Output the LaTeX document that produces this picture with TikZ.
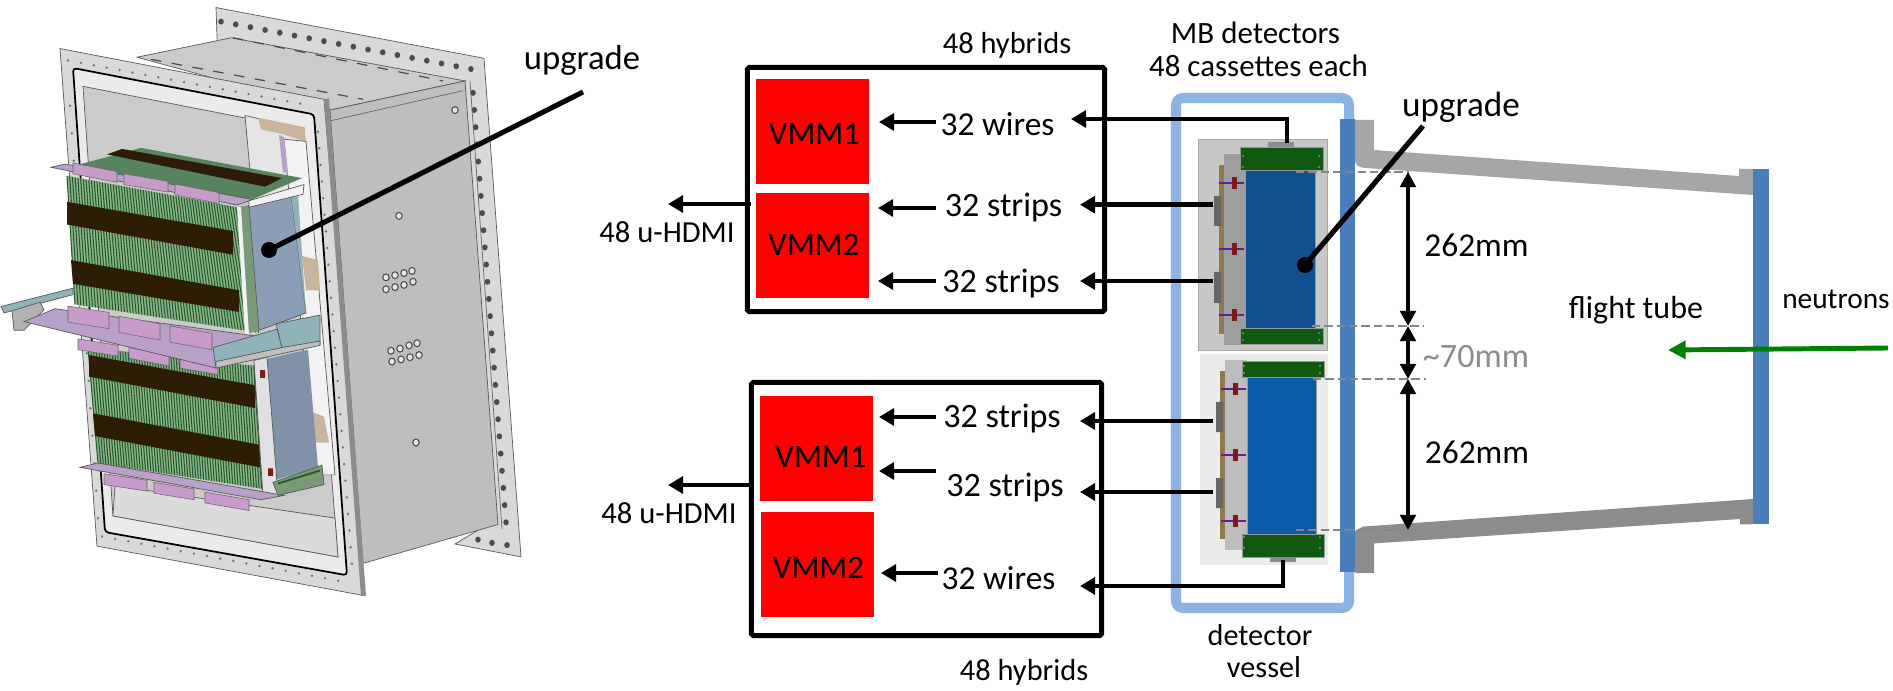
\documentclass[tikz,border=0pt]{standalone}
\usepackage{fontspec}
\setmainfont{Carlito}
\usepackage{tikz}
\usetikzlibrary{arrows.meta, calc}

\definecolor{flange}{HTML}{D9D9D9}
\definecolor{boxside}{HTML}{BEBEBE}
\definecolor{boxtop}{HTML}{CBCBCB}
\definecolor{cassette}{HTML}{8FB48C}
\definecolor{wirestripe}{HTML}{1F5A2A}
\definecolor{bandbrown}{HTML}{2E1D06}
\definecolor{platepink}{HTML}{B9A0C8}
\definecolor{connpink}{HTML}{C79CCB}
\definecolor{panelblue}{HTML}{8A9FB6}
\definecolor{railteal}{HTML}{8FB3B8}
\definecolor{tanplate}{HTML}{C9B59C}
\definecolor{vessel}{HTML}{8DB3E2}
\definecolor{vesselbar}{HTML}{4A7EBB}
\definecolor{tubeup}{HTML}{A6A6A6}
\definecolor{tubelow}{HTML}{8C8C8C}
\definecolor{pcb}{HTML}{0F5A10}
\definecolor{bluedark}{HTML}{10508C}
\definecolor{bluelight}{HTML}{0A5AAA}
\definecolor{flatpurple}{HTML}{6A1B9A}
\definecolor{redblock}{HTML}{7A1A1A}
\definecolor{tanstrip}{HTML}{8F7A50}
\definecolor{dimgrey}{HTML}{868686}

\tikzset{
  lbl/.style={anchor=base, inner sep=0pt, font=\fontsize{#1}{#1}\selectfont},
  hybridbox/.style={draw=black, line width=1.42pt, rounded corners=0.5pt, inner sep=0pt},
  vmmbox/.style={fill=red, inner sep=0pt, minimum width=1.13cm, minimum height=1.05cm},
  sigline/.style={line width=1.3pt, -{Triangle[length=4.3pt,width=4.8pt]}},
  dimline/.style={line width=1.2pt, {Triangle[length=4.3pt,width=4.4pt]}-{Triangle[length=4.3pt,width=4.4pt]}},
  dimdash/.style={draw=dimgrey, line width=0.65pt, dash pattern=on 2.4pt off 1.1pt},
  pointer/.style={line width=1.45pt},
  thinedge/.style={draw=black!65, line width=0.2pt}
}

% pink D-connector: corner, width, drop along the width, height
\newcommand{\dconn}[4]{
  \fill[connpink, draw=black!60, line width=0.15pt] (#1) -- ++(#2,#3) -- ++(0,#4) -- ++(-#2,-#3) -- cycle;
}

\begin{document}
\begin{tikzpicture}[x=0.01cm, y=-0.01cm]
\useasboundingbox (0,0) rectangle (1893,691);

\begin{scope}[yscale=1.0793]
% --- chamber, back flange and box
\fill[flange, thinedge] (216,7) -- (484,54) -- (521,516) -- (455,504) -- (498,480) -- (218,60) -- cycle;
\foreach \t in {0,0.0588,...,1.01}
  \fill[black!70] ($(221,20)!\t!(471,64)$) circle[radius=2.8];
\foreach \t in {0,0.04,...,1.01}
  \fill[black!70] ($(473,86)!\t!(506,484)$) circle[radius=2.8];
\foreach \p in {(478,500),(492,503),(507,505)}
  \fill[black!70] \p circle[radius=2.8];
\fill[boxtop, thinedge] (137,53) -- (231,35) -- (465,75) -- (330,102) -- cycle;
\draw[black!70, line width=0.35pt, dashed] (151,55) -- (363,92);
\draw[black!70, line width=0.35pt, dashed] (233,35) -- (443,75);
\fill[boxside, thinedge] (330,102) -- (465,75) -- (498,486) -- (363,522) -- cycle;
\draw[black!60, line width=0.2pt] (330,112) -- (463,84) (470,75) -- (502,490);
\foreach \p in {(399,200),(455,102),(416,410),
    (386,257),(395,255),(404,253),(412,251),(386,268),(395,266),(404,264),(413,261),
    (391,325),(400,323),(409,320),(417,318),(392,335),(401,333),(410,331),(419,329)}
  \draw[black!70, fill=black!10, line width=0.3pt] \p circle[radius=3.2];

% --- chamber, front flange and window
\fill[flange, thinedge] (60,45) -- (324,92) -- (365,552) -- (97,506) -- cycle;
\fill[black!45] (324,92) -- (329,91) -- (366,552) -- (361,552) -- cycle;
\draw[black, line width=0.5pt, rounded corners=1pt, fill=black!8] (73,63) -- (314,106) -- (347,533) -- (105,493) -- cycle;
\fill[boxtop, thinedge] (83,80) -- (304,120) -- (338,516) -- (113,478) -- cycle;
\fill[black!10, thinedge] (245,107) -- (304,120) -- (318,290) -- (262,280) -- cycle;
\fill[black!14, thinedge] (115,450) -- (335,480) -- (338,516) -- (113,478) -- cycle;
\fill[tanplate] (258,109) -- (305,118) -- (305,131) -- (282,124) -- (261,120) -- cycle;
\fill[black!5, thinedge] (284,129) -- (306,131) -- (335,440) -- (315,440) -- cycle;
\fill[platepink] (279,125) -- (284,127) -- (288,160) -- (283,160) -- cycle;
\fill[tanplate] (302,237) -- (318,241) -- (320,269) -- (306,269) -- cycle;
\fill[tanplate] (302,378) -- (324,386) -- (329,410) -- (315,410) -- cycle;
\foreach \t in {0,0.0556,...,1.01}
  \fill[black!55] ($(68,56)!\t!(300,96)$) circle[radius=1.3];
\foreach \t in {0,0.0385,...,1.01}
  \fill[black!55] ($(318,122)!\t!(352,522)$) circle[radius=1.3];
\foreach \t in {0,0.0556,...,1.01}
  \fill[black!55] ($(102,497)!\t!(338,538)$) circle[radius=1.3];
\foreach \t in {0,0.0667,...,1.01}
  \fill[black!55] ($(70,98)!\t!(98,480)$) circle[radius=1.3];

% --- lower cassette stack
\fill[cassette] (88,322) -- (255,339) -- (263,453) -- (98,429) -- cycle;
\foreach \t in {0,0.016,...,1.01}
  \draw[wirestripe, line width=0.3pt] ($(88,322)!\t!(255,339)$) -- ($(98,429)!\t!(263,453)$);
\fill[bandbrown] (89,329) -- (255,357) -- (255,378) -- (89,349) -- cycle;
\fill[bandbrown] (93,383) -- (259,412) -- (260,433) -- (95,404) -- cycle;
\fill[panelblue!92!black] (265,333) -- (308,324) -- (318,433) -- (274,445) -- cycle;
\fill[black!12, thinedge] (254,334) -- (267,331) -- (278,458) -- (263,460) -- cycle;
\fill[redblock] (260,343) rectangle (265,350) (268,434) rectangle (273,441);
\fill[platepink, thinedge] (80,433) -- (98,429) -- (284,459) -- (261,463) -- cycle;
\dconn{104,439}{43}{6}{10}
\dconn{154,447}{40}{6}{10}
\dconn{205,456}{44}{7}{10}
\fill[cassette!85!black, thinedge] (273,447) -- (322,431) -- (324,449) -- (278,459) -- cycle;
\draw[wirestripe, line width=0.5pt] (278,448) -- (320,436);

% --- upper cassette stack and middle rail
\dconn{78,314}{40}{6}{10}
\dconn{129,322}{40}{7}{10}
\dconn{180,331}{38}{6}{10}
\fill[wirestripe!75] (69,155) -- (141,137) -- (302,165) -- (249,186) -- cycle;
\fill[bandbrown] (107,143) -- (122,138) -- (282,165) -- (265,173) -- cycle;
\fill[cassette] (67,163) -- (237,192) -- (257,308) -- (75,282) -- cycle;
\foreach \t in {0,0.016,...,1.01}
  \draw[wirestripe, line width=0.3pt] ($(67,163)!\t!(237,192)$) -- ($(75,282)!\t!(257,308)$);
\fill[bandbrown] (67,187) -- (233,214) -- (233,236) -- (67,208) -- cycle;
\fill[bandbrown] (71,241) -- (239,269) -- (239,289) -- (73,263) -- cycle;
\fill[platepink, thinedge] (51,155) -- (65,152) -- (253,185) -- (237,190) -- cycle;
\dconn{73,151}{44}{8}{10}
\dconn{124,161}{44}{7}{10}
\dconn{175,170.5}{44}{8}{10}
\fill[cassette!85!black] (237,192) -- (249,190) -- (259,306) -- (245,310) -- cycle;
\fill[black!5] (237,192) -- (241,192) -- (249,310) -- (245,310) -- cycle;
\fill[panelblue, thinedge] (249,190) -- (291,180) -- (306,290) -- (259,306) -- cycle;
\fill[railteal] (291,180) -- (298,179) -- (306,290) -- cycle;
\fill[black!5, thinedge] (249,186) -- (304,171) -- (303,180) -- (249,192) -- cycle;
\fill[railteal, thinedge] (1,284) -- (73,267) -- (73,273) -- (4,290) -- cycle;
\fill[black!30, thinedge] (12,288) -- (40,280) -- (44,287) -- (24,306) -- (14,306) -- cycle;
\fill[platepink, thinedge] (24,298) -- (55,286) -- (277,314) -- (216,341) -- cycle;
\dconn{68,283.5}{41}{6}{15}
\dconn{119,293}{41}{7}{15}
\dconn{170,302}{42}{7}{15}
\fill[railteal, thinedge] (213,322) -- (277,305) -- (282,322) -- (216,341) -- cycle;
\fill[railteal, thinedge] (276,300) -- (320,292) -- (320,320) -- (282,322) -- cycle;
\fill[black!25, thinedge] (282,322) -- (320,316) -- (320,320) -- (216,341) -- (216,335) -- cycle;
\end{scope}

% --- pointer on the chamber
\node[lbl=9.85] (upgradeA) at (582,70) {upgrade};
\coordinate (upgradeAtail) at (583,92);
\coordinate (upgradeAdot) at (269,250);
\draw[pointer] (upgradeAtail) -- (upgradeAdot);
\fill (upgradeAdot) circle[radius=8];

% --- hybrid boxes
\node[hybridbox, minimum width=3.57cm, minimum height=2.44cm] (hybUp) at (926,189.5) {};
\node[hybridbox, minimum width=3.50cm, minimum height=2.53cm] (hybLow) at (926.5,509) {};
\node[vmmbox] (vmmUpA) at (812.5,131.5) {};
\node[vmmbox] (vmmUpB) at (812.5,245.5) {};
\node[vmmbox] (vmmLowA) at (816.5,448.5) {};
\node[vmmbox] (vmmLowB) at (817.5,564.5) {};
\node[lbl=9.3] (vmmUpAlbl) at (814.5,145) {VMM1};
\node[lbl=9.3] (vmmUpBlbl) at (814,256) {VMM2};
\node[lbl=9.3] (vmmLowAlbl) at (821,467) {VMM1};
\node[lbl=9.3] (vmmLowBlbl) at (818.5,578) {VMM2};
\node[lbl=8.65] (hybUplbl) at (1007,54) {48 hybrids};
\node[lbl=8.65] (hybLowlbl) at (1024,680) {48 hybrids};
\node[lbl=8.7] (hdmiUp) at (667,242) {48 u-HDMI};
\node[lbl=8.7] (hdmiLow) at (669,523) {48 u-HDMI};

\node[lbl=9.5] (upWires) at (997.5,136) {32 wires};
\node[lbl=9.7] (upStripsA) at (1003.5,217) {32 strips};
\node[lbl=9.7] (upStripsB) at (1001,293) {32 strips};
\node[lbl=9.7] (lowStripsA) at (1002,427) {32 strips};
\node[lbl=9.7] (lowStripsB) at (1005,496) {32 strips};
\node[lbl=9.5] (lowWires) at (998.5,589) {32 wires};

% --- detector vessel
\draw[vessel, line width=2.85pt, rounded corners=2pt] (1176,98) rectangle (1349,608);
\fill[vesselbar] (1340,119) rectangle (1355,572);
\fill[tubeup] (1355,120) -- (1374,120) -- (1374,150) -- (1739,176) -- (1739,169) -- (1753,169) -- (1753,195)
  -- (1366,168) .. controls (1358,167.5) and (1355,165) .. (1355,160) -- cycle;
\fill[tubelow] (1355,573) -- (1374,573) -- (1374,543.4) -- (1740,519) -- (1740,524.3) -- (1753,524.3) -- (1753,499)
  -- (1363,526.6) -- (1355,531) -- cycle;
\fill[vesselbar] (1753,169) rectangle (1769,524);

% --- upper detector
\fill[black!22, draw=black!35, line width=0.2pt] (1198,139) rectangle (1327,350);
\fill[black!38] (1224,154) rectangle (1245,345);
\fill[tanstrip] (1219,165) rectangle (1224,334);
\fill[black!60] (1214,196) rectangle (1221,226) (1214,272) rectangle (1221,303);
\foreach \y in {183,249,315} {
  \fill[flatpurple] (1219,\y-1) rectangle (1244,\y+1);
  \fill[redblock] (1232,\y-6) rectangle (1237,\y+6);
}
\fill[bluedark, draw=black!40, line width=0.2pt] (1245,170) rectangle (1315,328);
\fill[pcb, draw=black!40, line width=0.2pt] (1240,147) rectangle (1323,170);
\fill[pcb, draw=black!40, line width=0.2pt] (1240,328) rectangle (1323,344);
\fill[black!45] (1268,142) rectangle (1294,147);

% --- lower detector
\fill[black!8] (1200,354) rectangle (1328,565);
\fill[black!26] (1225,360) rectangle (1247,550);
\fill[tanstrip] (1220,371) rectangle (1225,539);
\fill[black!60] (1216,402) rectangle (1223,432) (1216,478) rectangle (1223,508);
\foreach \y in {389,455,521} {
  \fill[flatpurple] (1221,\y-1) rectangle (1246,\y+1);
  \fill[redblock] (1233,\y-6) rectangle (1238,\y+6);
}
\fill[bluelight, draw=black!40, line width=0.2pt] (1247,377) rectangle (1316,534);
\fill[pcb, draw=black!40, line width=0.2pt] (1242,361) rectangle (1324,377);
\fill[pcb, draw=black!40, line width=0.2pt] (1242,534) rectangle (1324,557);
\fill[black!45] (1270,557) rectangle (1296,562);
\foreach \p in {(1243,156),(1243,167),(1319,156),(1319,167),(1243,333),(1243,340),(1319,333),(1319,340),
    (1244,366),(1244,373),(1320,366),(1320,373),(1244,537),(1244,548),(1320,537),(1320,548)}
  \fill[black!45] \p circle[radius=1.2];

% --- signal lines
\coordinate (upWireIn) at (1287,143);
\coordinate (upWireTip) at (1071,119);
\coordinate (upStripAIn) at (1213,204.7);
\coordinate (upStripATip) at (1080,204.7);
\coordinate (upStripBIn) at (1213,281);
\coordinate (upStripBTip) at (1080,281);
\coordinate (lowStripAIn) at (1213,421);
\coordinate (lowStripATip) at (1080,421);
\coordinate (lowStripBIn) at (1213,492);
\coordinate (lowStripBTip) at (1080,492);
\coordinate (lowWireIn) at (1283,560);
\coordinate (lowWireTip) at (1080,586);
\draw[sigline] (upWireIn) |- (upWireTip);
\draw[sigline] (upStripAIn) -- (upStripATip);
\draw[sigline] (upStripBIn) -- (upStripBTip);
\draw[sigline] (lowStripAIn) -- (lowStripATip);
\draw[sigline] (lowStripBIn) -- (lowStripBTip);
\draw[sigline] (lowWireIn) |- (lowWireTip);

\coordinate (a1) at (935.6,122); \coordinate (a1t) at (879,122);
\coordinate (a2) at (935.6,208); \coordinate (a2t) at (878,208);
\coordinate (a3) at (935.6,281); \coordinate (a3t) at (878,281);
\coordinate (a4) at (935.6,417); \coordinate (a4t) at (879,417);
\coordinate (a5) at (935.6,471); \coordinate (a5t) at (879,471);
\coordinate (a6) at (937.5,573); \coordinate (a6t) at (881,573);
\foreach \i in {1,...,6}
  \draw[sigline] (a\i) -- (a\i t);

\coordinate (hdmiUpTail) at (751,204);
\coordinate (hdmiUpTip) at (668,204);
\coordinate (hdmiLowTail) at (749,485);
\coordinate (hdmiLowTip) at (668,485);
\draw[sigline] (hdmiUpTail) -- (hdmiUpTip);
\draw[sigline] (hdmiLowTail) -- (hdmiLowTip);

% --- dimensions
\coordinate (d1) at (1408,172);
\coordinate (d2) at (1408,326);
\coordinate (d3) at (1408,379);
\coordinate (d4) at (1408,530);
\draw[dimdash] (1296,172) -- (1409,172);
\draw[dimdash] (1312,326) -- (1423,326);
\draw[dimdash] (1313,379) -- (1426,379);
\draw[dimdash] (1296,530) -- (1409,530);
\draw[dimline] (d1) -- (d2);
\draw[dimline] (d2) -- (d3);
\draw[dimline] (d3) -- (d4);
\node[lbl=9.5] (dimUp) at (1476.5,257) {262mm};
\node[lbl=9.7, text=tubelow] (dimGap) at (1476,367) {\textasciitilde 70mm};
\node[lbl=9.5] (dimLow) at (1477,463) {262mm};

% --- pointer on the detector
\node[lbl=10] (upgradeB) at (1461,117) {upgrade};
\coordinate (upgradeBtail) at (1423,126);
\coordinate (upgradeBdot) at (1305,265);
\draw[pointer] (upgradeBtail) -- (upgradeBdot);
\fill (upgradeBdot) circle[radius=8];

% --- other labels
\node[lbl=8.8] (mbLbl) at (1255.5,44) {MB detectors};
\node[lbl=8.8] (cassLbl) at (1258.5,77) {48 cassettes each};
\node[lbl=8.6] (detLbl) at (1260,645) {detector};
\node[lbl=8.6] (vesLbl) at (1264,677) {vessel};
\node[lbl=9.1] (tubeLbl) at (1636,318) {flight tube};
\node[lbl=8.35] (neuLbl) at (1836,308) {neutrons};
\coordinate (neuTail) at (1888,348);
\coordinate (neuTip) at (1668,350);
\draw[line width=1.4pt, green!50!black, -{Triangle[length=5pt,width=5pt]}] (neuTail) -- (neuTip);
\end{tikzpicture}
\end{document}
